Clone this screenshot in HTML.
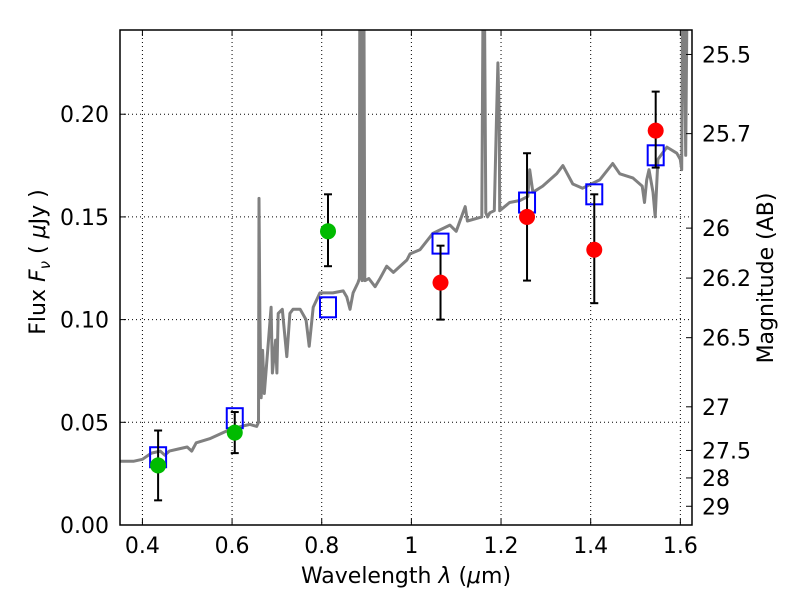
<!DOCTYPE html>
<html><head><meta charset="utf-8"><style>
body{margin:0;background:#fff}
svg text{font-family:"DejaVu Sans","Liberation Sans",sans-serif;fill:#000}
</style></head><body>
<svg id="chart" width="800" height="600" viewBox="0 0 800 600" xmlns="http://www.w3.org/2000/svg"></svg>
<script>
const specWave=[0.35,0.38,0.40,0.42,0.44,0.45,0.46,0.48,0.50,0.51,0.52,0.55,0.58,0.60,0.62,0.64,0.655,0.659,0.660,0.662,0.665,0.668,0.672,0.687,0.690,0.697,0.700,0.703,0.712,0.722,0.729,0.736,0.752,0.765,0.772,0.781,0.796,0.825,0.848,0.856,0.863,0.870,0.881,0.884,0.885,0.887,0.890,0.892,0.894,0.896,0.897,0.905,0.919,0.930,0.945,0.960,0.990,0.997,1.019,1.048,1.086,1.100,1.120,1.125,1.157,1.160,1.163,1.166,1.170,1.175,1.185,1.190,1.193,1.196,1.197,1.219,1.242,1.260,1.264,1.271,1.293,1.324,1.338,1.360,1.382,1.420,1.449,1.465,1.494,1.515,1.520,1.525,1.530,1.539,1.544,1.550,1.570,1.592,1.600,1.603,1.605,1.608,1.612,1.615,1.618,1.626];
const specFlux=[0.031,0.031,0.032,0.035,0.036,0.034,0.036,0.037,0.038,0.036,0.040,0.042,0.045,0.047,0.048,0.049,0.048,0.050,0.159,0.100,0.062,0.085,0.064,0.106,0.074,0.090,0.074,0.103,0.105,0.082,0.103,0.105,0.105,0.100,0.087,0.106,0.113,0.113,0.114,0.111,0.105,0.113,0.118,0.120,0.26,0.26,0.119,0.26,0.26,0.119,0.119,0.120,0.116,0.120,0.126,0.123,0.129,0.132,0.134,0.142,0.146,0.143,0.155,0.148,0.150,0.26,0.26,0.152,0.150,0.152,0.153,0.20,0.225,0.20,0.153,0.157,0.158,0.160,0.173,0.162,0.165,0.171,0.175,0.166,0.164,0.168,0.176,0.171,0.169,0.165,0.157,0.168,0.173,0.162,0.150,0.178,0.184,0.181,0.178,0.173,0.26,0.26,0.180,0.26,0.26,0.26];
const bandWave=[0.435,0.606,0.814,1.065,1.258,1.408,1.545];
const modelFlux=[0.033,0.052,0.106,0.137,0.157,0.161,0.180];
const obsFlux=[0.029,0.045,0.143,0.118,0.150,0.134,0.192];
const obsLo=[0.012,0.035,0.126,0.100,0.119,0.108,0.174];
const obsHi=[0.046,0.055,0.161,0.136,0.181,0.161,0.211];
const obsColor=['#00bb00','#00bb00','#00bb00','#ff0000','#ff0000','#ff0000','#ff0000'];
const xTicks=[0.4,0.6,0.8,1.0,1.2,1.4,1.6];
const xTickLabels=['0.4','0.6','0.8','1','1.2','1.4','1.6'];
const yTicks=[0,0.05,0.10,0.15,0.20];
const yTickLabels=['0.00','0.05','0.10','0.15','0.20'];
const magTicks=[25.5,25.7,26,26.2,26.5,27,27.5,28,29];
const magLabels=['25.5','25.7','26','26.2','26.5','27','27.5','28','29'];

const L=120,R=692,T=30,B=525,X0=0.35,X1=1.626,Y0=0,Y1=0.241;
const sx=v=>L+(v-X0)/(X1-X0)*(R-L);
const sy=v=>B-(v-Y0)/(Y1-Y0)*(B-T);
const svg=document.getElementById('chart');
const NS='http://www.w3.org/2000/svg';
function mk(tag,attrs,parent){const e=document.createElementNS(NS,tag);for(const k in attrs)e.setAttribute(k,attrs[k]);(parent||svg).appendChild(e);return e;}

const defs=mk('defs',{});const cp=mk('clipPath',{id:'clip'},defs);mk('rect',{x:L,y:T,width:R-L,height:B-T},cp);

const grid=mk('g',{});


xTicks.forEach(v=>mk('line',{x1:sx(v),x2:sx(v),y1:T,y2:B,stroke:'#000','stroke-width':1,'stroke-dasharray':'1,3'},grid));
yTicks.forEach(v=>mk('line',{x1:L,x2:R,y1:sy(v),y2:sy(v),stroke:'#000','stroke-width':1,'stroke-dasharray':'1,3'},grid));

const pts=specWave.map((w,i)=>sx(w).toFixed(1)+','+sy(specFlux[i]).toFixed(1)).join(' ');
const sp=mk('polyline',{points:pts,fill:'none',stroke:'#808080','stroke-width':3,'stroke-linejoin':'round','clip-path':'url(#clip)'});



bandWave.forEach((w,i)=>{
 const r=mk('rect',{x:sx(w)-8,y:sy(modelFlux[i])-10,width:16,height:20,fill:'none',stroke:'#0000ff','stroke-width':2});
 
 
});
bandWave.forEach((w,i)=>{
 const g=mk('g',{});
 
 
 const x=sx(w);
 mk('line',{x1:x,x2:x,y1:sy(obsLo[i]),y2:sy(obsHi[i]),stroke:'#000','stroke-width':2},g);
 mk('line',{x1:x-4,x2:x+4,y1:sy(obsLo[i]),y2:sy(obsLo[i]),stroke:'#000','stroke-width':2},g);
 mk('line',{x1:x-4,x2:x+4,y1:sy(obsHi[i]),y2:sy(obsHi[i]),stroke:'#000','stroke-width':2},g);
 mk('circle',{cx:x,cy:sy(obsFlux[i]),r:8,fill:obsColor[i]},g);
});

const fr=mk('rect',{x:L,y:T,width:R-L,height:B-T,fill:'none',stroke:'#000','stroke-width':1.5});



xTicks.forEach((v,i)=>{
 mk('line',{x1:sx(v),x2:sx(v),y1:B,y2:B-6,stroke:'#000'});
 mk('line',{x1:sx(v),x2:sx(v),y1:T,y2:T+6,stroke:'#000'});
 const t=mk('text',{x:sx(v),y:B+28,'text-anchor':'middle','font-size':22});
 t.textContent=xTickLabels[i];
 
 
});
yTicks.forEach((v,i)=>{
 mk('line',{x1:L,x2:L+6,y1:sy(v),y2:sy(v),stroke:'#000'});
 const t=mk('text',{x:L-11,y:sy(v)+8,'text-anchor':'end','font-size':22});
 t.textContent=yTickLabels[i];
 
 
});
magTicks.forEach((m,i)=>{
 const f=Math.pow(10,(23.9-m)/2.5);const y=sy(f);
 mk('line',{x1:R,x2:R-6,y1:y,y2:y,stroke:'#000'});
 const t=mk('text',{x:R+10,y:y+8,'font-size':22});
 t.textContent=magLabels[i];
 
 
});

let t=mk('text',{x:406,y:583,'text-anchor':'middle','font-size':22});
t.innerHTML='Wavelength  <tspan font-style="italic">λ</tspan> (<tspan font-style="italic">μ</tspan>m)';


t=mk('text',{x:0,y:0,'text-anchor':'middle','font-size':22,transform:'translate(45,262) rotate(-90)'});
t.innerHTML='Flux  <tspan font-style="italic">F</tspan><tspan font-style="italic" font-size="15" dy="5">ν</tspan><tspan dy="-5">  ( </tspan><tspan font-style="italic">μ</tspan>Jy )';


t=mk('text',{x:0,y:0,'text-anchor':'middle','font-size':22,transform:'translate(773,278) rotate(-90)'});
t.textContent='Magnitude (AB)';


</script>
</body></html>
